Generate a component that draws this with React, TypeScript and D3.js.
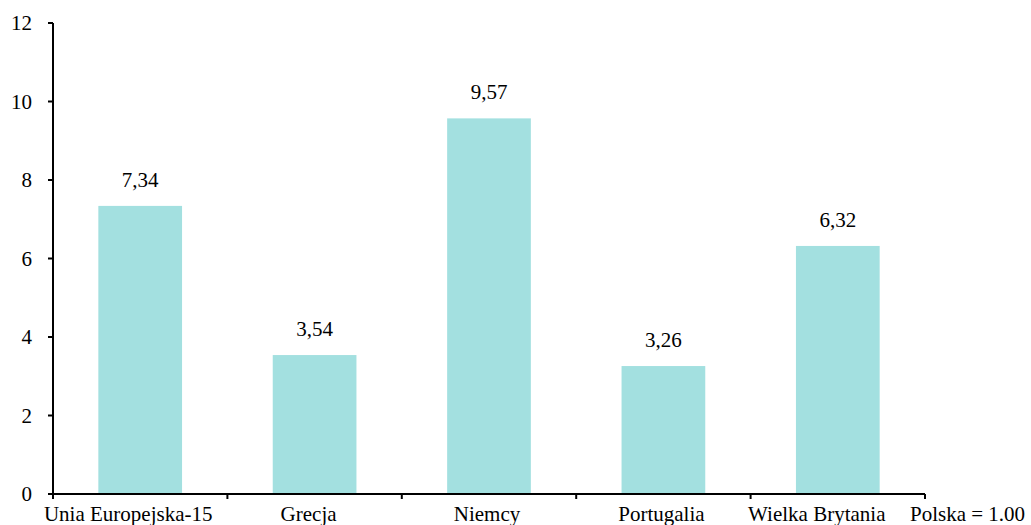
import React from "react";
import * as d3 from "d3";

const categories = ["Unia Europejska-15", "Grecja", "Niemcy", "Portugalia", "Wielka Brytania"];
const values = [7.34, 3.54, 9.57, 3.26, 6.32];
const valueLabels = ["7,34", "3,54", "9,57", "3,26", "6,32"];
const yTicks = [0, 2, 4, 6, 8, 10, 12];
const axisNote = "Polska = 1.00";

const W = 1031;
const H = 525;
const left = 53;
const right = 925;
const top = 23;
const bottom = 494;
const FS = 21;
// nudges applied to category labels so neighbours don't collide
const labelShift = [-12, -6, -2, -2, -21];

const serif = { fontFamily: '"Liberation Serif"' };

export default function App() {
  const x = d3.scaleBand<string>().domain(categories).range([left, right]).paddingInner(0.52).paddingOuter(0.26);
  const band = d3.scaleBand<string>().domain(categories).range([left, right]);
  const y = d3.scaleLinear().domain([0, 12]).range([bottom, top]);
  const edges = categories.map((c) => band(c)!).concat([right]);

  return (
    <svg width={W} height={H} style={{ position: "absolute", left: 0, top: 0, background: "#fff" }}>
      {/* bars */}
      <g>
        {values.map((v, i) => (
          <rect
            key={categories[i]}
            x={x(categories[i])!}
            width={x.bandwidth()}
            y={y(v)}
            height={bottom - y(v)}
            fill="#a3e0e0"
          />
        ))}
      </g>

      {/* value labels */}
      <g>
        {values.map((v, i) => (
          <text
            key={categories[i]}
            x={x(categories[i])! + x.bandwidth() / 2}
            y={y(v) - 19}
            textAnchor="middle"
            fontSize={FS}
            style={serif}
          >
            {valueLabels[i]}
          </text>
        ))}
      </g>

      {/* y axis */}
      <g>
        <line x1={left} x2={left} y1={y(12)} y2={bottom} stroke="#000" strokeWidth={2} />
        {yTicks.map((t) => (
          <g key={t}>
            <line x1={left - 5} x2={left} y1={y(t)} y2={y(t)} stroke="#000" strokeWidth={2} />
            <text x={32} y={y(t) + 7} textAnchor="end" fontSize={FS} style={serif}>
              {t}
            </text>
          </g>
        ))}
      </g>

      {/* x axis */}
      <g>
        <line x1={left - 5} x2={right} y1={bottom} y2={bottom} stroke="#000" strokeWidth={2} />
        {edges.map((e, i) => (
          <line key={i} x1={e} x2={e} y1={bottom} y2={bottom + 5} stroke="#000" strokeWidth={2} />
        ))}
        {categories.map((c, i) => (
          <text
            key={c}
            x={band(c)! + band.bandwidth() / 2 + labelShift[i]}
            y={521}
            textAnchor="middle"
            fontSize={FS}
            style={serif}
          >
            {c}
          </text>
        ))}
        <text x={910} y={521} fontSize={FS} style={serif}>
          {axisNote}
        </text>
      </g>
    </svg>
  );
}
